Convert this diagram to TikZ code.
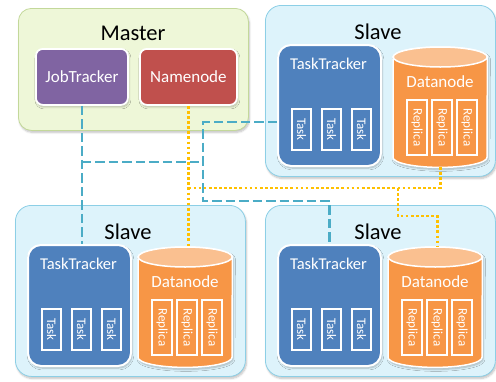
\documentclass[tikz,border=0pt]{standalone}
\usepackage{fontspec}
\setmainfont{Carlito}
\usetikzlibrary{shadows.blur}

\definecolor{masterin}{HTML}{EEF7D8}
\definecolor{masterout}{HTML}{D5EAAE}
\definecolor{masterline}{HTML}{C3D89A}
\definecolor{slavein}{HTML}{DDF3FB}
\definecolor{slaveout}{HTML}{A8E1F5}
\definecolor{slaveline}{HTML}{8CCFE6}
\definecolor{jtcol}{HTML}{8064A2}
\definecolor{nncol}{HTML}{C0504D}
\definecolor{ttcol}{HTML}{4F81BD}
\definecolor{dncol}{HTML}{F79646}
\definecolor{dntop}{HTML}{FAC090}
\definecolor{mrlink}{HTML}{4BACC6}
\definecolor{hdfslink}{HTML}{FFC000}

% soft glow: light centre, deeper colour towards the rim
\pgfdeclareradialshading{masterglow}{\pgfpoint{0bp}{0bp}}{%
  color(0bp)=(masterin); color(34bp)=(masterin); color(50bp)=(masterout); color(72bp)=(masterout)}
\pgfdeclareradialshading{slaveglow}{\pgfpoint{0bp}{0bp}}{%
  color(0bp)=(slavein); color(34bp)=(slavein); color(50bp)=(slaveout); color(72bp)=(slaveout)}

\tikzset{
  softshadow/.style={blur shadow={shadow xshift=1pt, shadow yshift=-2pt, shadow blur steps=6, shadow opacity=25}},
  groupbox/.style={draw, line width=0.8pt, rounded corners=16pt, inner sep=0pt, softshadow},
  titletext/.style={font=\fontsize{22.5}{25}\selectfont, text=black, inner sep=0pt},
  ctrlbox/.style={draw=white, line width=1.8pt, rounded corners=7pt, inner sep=0pt,
    text=white, font=\fontsize{17}{19}\selectfont, softshadow},
  trackerbox/.style={fill=ttcol, draw=white, line width=2pt, rounded corners=13pt, inner sep=0pt, softshadow},
  boxtext/.style={text=white, font=\fontsize{16.5}{19}\selectfont, inner sep=0pt},
  slotbox/.style={draw=white, line width=1.5pt, inner sep=0pt, rotate=-90,
    text=white, font=\fontsize{13}{15}\selectfont},
  mrpath/.style={draw=mrlink, line width=2.7pt, dash pattern=on 9.5pt off 4pt},
  hdfspath/.style={draw=hdfslink, line width=2.7pt, dash pattern=on 2.7pt off 2.4pt},
}

% one slave machine: #1 name, #2/#3 top-left corner, #4 extra shift of the datanode
\newcommand\slavegroup[4]{%
  \begin{scope}[shift={(#2,#3)}]
    \node[groupbox, shading=slaveglow, draw=slaveline, anchor=north west,
      minimum width=230pt, minimum height=171pt] (#1) at (0,0) {};
    \node[titletext] (#1-title) at (113,27) {Slave};
    % task tracker with its three task slots
    \node[trackerbox, anchor=north west, minimum width=103pt, minimum height=121pt] (#1-tt) at (12,39) {};
    \node[boxtext] (#1-ttlabel) at (63.5,59) {TaskTracker};
    \foreach \k/\x in {1/36.5,2/66.5,3/96.5}
      \node[slotbox, fill=ttcol, minimum width=41pt, minimum height=19pt] (#1-task\k) at (\x,124.5) {Task};
    % datanode cylinder with its three replicas
    \node[inner sep=0pt, anchor=north west, minimum width=94pt, minimum height=120pt] (#1-dn) at (123+#4,42) {};
    \fill[dncol, draw=white, line width=1.5pt, softshadow]
      ([yshift=-10pt]#1-dn.north west) -- ([yshift=10pt]#1-dn.south west)
      arc[start angle=180, end angle=360, x radius=47pt, y radius=10pt]
      -- ([yshift=-10pt]#1-dn.north east)
      arc[start angle=0, end angle=180, x radius=47pt, y radius=10pt] -- cycle;
    \fill[dntop, draw=white, line width=1.5pt] ([yshift=-10pt]#1-dn.north) ellipse[x radius=47pt, y radius=10pt];
    \node[boxtext, font=\fontsize{17}{19}\selectfont] (#1-dnlabel) at (170+#4,77) {Datanode};
    \foreach \k/\x in {1/0,2/25,3/50}
      \node[slotbox, fill=dncol, minimum width=55pt, minimum height=20pt] (#1-rep\k) at (147+#4+\x,122.5) {Replica};
  \end{scope}%
}

\begin{document}
\begin{tikzpicture}[x=1pt, y=-1pt]
  \useasboundingbox (0,0) rectangle (496,381);

  % master machine
  \node[groupbox, shading=masterglow, draw=masterline, rounded corners=13pt, anchor=north west,
    minimum width=230pt, minimum height=122pt] (master) at (18,8) {};
  \node[titletext] (mastertitle) at (133,33) {Master};
  \node[ctrlbox, fill=jtcol, anchor=north west, minimum width=92pt, minimum height=56pt] (jt) at (35,48) {JobTracker};
  \node[ctrlbox, fill=nncol, anchor=north west, minimum width=97pt, minimum height=56pt] (nn) at (139,48) {Namenode};

  % slave machines
  \slavegroup{tr}{265}{5}{5}
  \slavegroup{bl}{15}{205}{0}
  \slavegroup{br}{265}{205}{0}

  % MapReduce control links
  \coordinate (mrtee) at (203,162);
  \coordinate (mrtop) at (203,122);
  \coordinate (mrbot) at (203,201);
  \draw[mrpath] (jt.south) -- (jt.south |- bl-tt.north);
  \draw[mrpath] (jt.south |- mrtee) -- (mrtee);
  \draw[mrpath] (tr-tt.west |- mrtop) -- (mrtop) -- (mrbot) -- (br-tt.north |- mrbot) -- (br-tt.north);

  % HDFS links
  \coordinate (hdfsbus) at (398,188);
  \coordinate (hdfsdrop) at (398,216);
  \draw[hdfspath] (nn.south) -- (nn.south |- bl-dn.north);
  \draw[hdfspath] (nn.south |- hdfsbus) -- (tr-dn.south |- hdfsbus) -- (tr-dn.south);
  \draw[hdfspath] (hdfsbus) -- (hdfsdrop) -- ([xshift=2pt]br-dn.north |- hdfsdrop) -- ([xshift=2pt]br-dn.north);
\end{tikzpicture}
\end{document}
